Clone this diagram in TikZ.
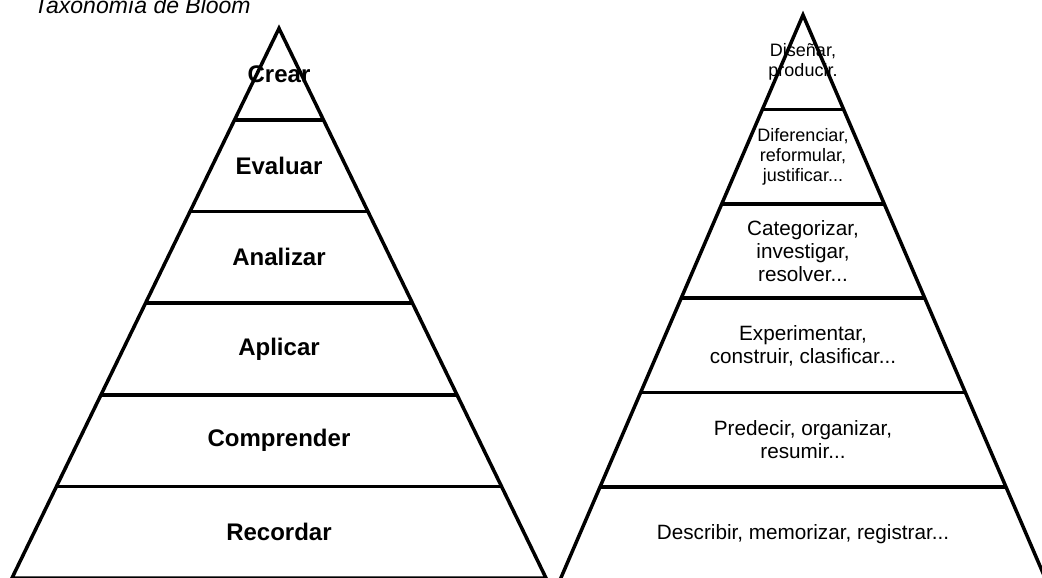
\documentclass[tikz,border=0pt]{standalone}
\usepackage{fontspec}
\setmainfont{Liberation Sans}
\usepackage{tikz}
\usetikzlibrary{calc}

\begin{document}
\begin{tikzpicture}[x=1pt, y=-1pt,
    borde/.style={line width=3.5pt, line join=miter},
    nivel/.style={font=\bfseries\fontsize{24}{28}\selectfont},
    verbo/.style={align=center, font=\fontsize{20.7}{23}\selectfont},
    verbochico/.style={align=center, font=\fontsize{18}{20}\selectfont}]
    \useasboundingbox (0,0) rectangle (1042,578);
    % Title
    \node[anchor=base west, inner sep=0pt, font=\itshape\fontsize{23}{27}\selectfont] (titulo) at (34,14) {Taxonomía de Bloom};
    % Left pyramid: levels
    \coordinate (izqA) at (279,28.4);
    \coordinate (izqL) at (12,578);
    \coordinate (izqR) at (546,578);
    \draw[borde] (izqA) -- (izqR) -- (izqL) -- cycle;
    \foreach \i in {1,...,5}
        \draw[borde] ($(izqA)!\i/6!(izqL)$) -- ($(izqA)!\i/6!(izqR)$);
    \foreach \txt [count=\i] in {Crear, Evaluar, Analizar, Aplicar, Comprender, Recordar}
        \node[nivel] (izq\i) at (279, {28.4+91.6*\i-45.8}) {\txt};
    % Right pyramid: verbs
    \coordinate (derA) at (803,15);
    \coordinate (derL) at (559.4,581.4);
    \coordinate (derR) at (1046.6,581.4);
    \draw[borde] (derA) -- (derR) -- (derL) -- cycle;
    \foreach \i in {1,...,5}
        \draw[borde] ($(derA)!\i/6!(derL)$) -- ($(derA)!\i/6!(derR)$);
    \node[verbochico] (der1) at (803,62.2) {Diseñar,\\producir.};
    \node[verbochico] (der2) at (803,156.6) {Diferenciar,\\reformular,\\justificar...};
    \node[verbo] (der3) at (803,251) {Categorizar,\\investigar,\\resolver...};
    \node[verbo] (der4) at (803,345.4) {Experimentar,\\construir, clasificar...};
    \node[verbo] (der5) at (803,439.8) {Predecir, organizar,\\resumir...};
    \node[verbo] (der6) at (803,534.2) {Describir, memorizar, registrar...};
\end{tikzpicture}
\end{document}
